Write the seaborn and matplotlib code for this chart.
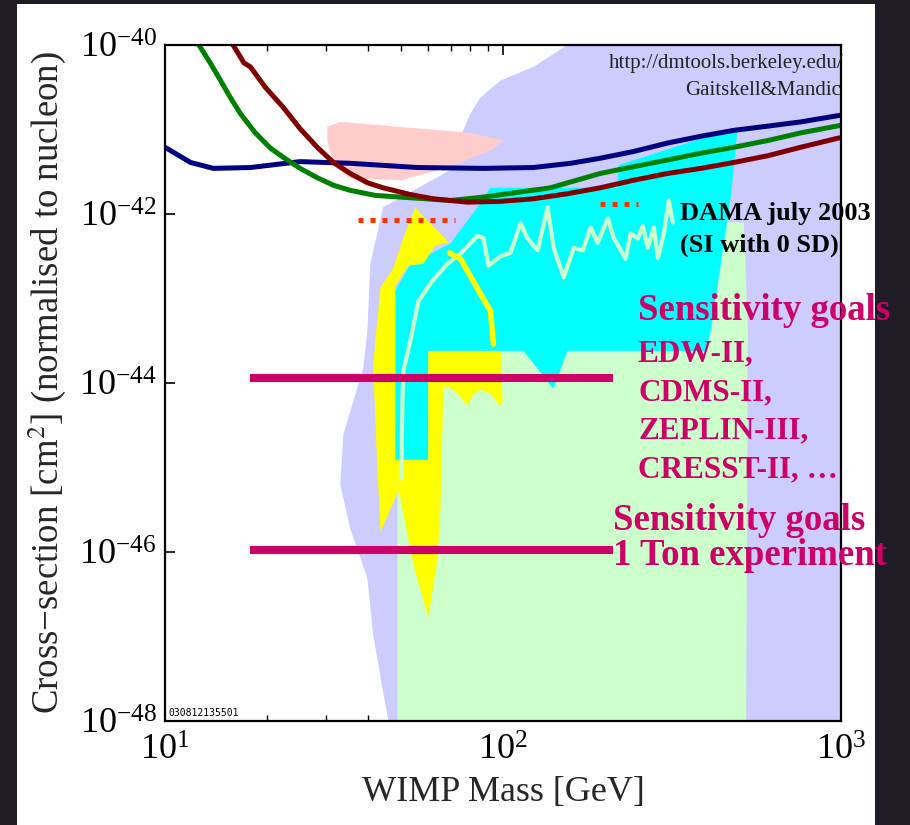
import numpy as np
import pandas as pd
import matplotlib
matplotlib.use("Agg")
import matplotlib.pyplot as plt
import seaborn as sns
from matplotlib.patches import Rectangle
from matplotlib.ticker import FixedLocator, NullLocator, LogFormatterSciNotation

# ---------------- data (mass in GeV, cross-section as log10 cm^2) ----------------
blue_mass = [10.0, 10.7, 11.9, 13.9, 17.9, 25.1, 35.3, 55.8, 87.5, 123, 158.5, 194, 243.6,
             307, 385, 482, 608, 760, 1000]
blue_logsig = [-41.21, -41.28, -41.39, -41.46, -41.45, -41.38, -41.40, -41.45, -41.46,
               -41.45, -41.40, -41.34, -41.26, -41.16, -41.08, -41.01, -40.96, -40.91, -40.83]

green_mass = [12.6, 13.6, 14.6, 15.6, 16.7, 18.5, 20.5, 22.4, 25.1, 28.2, 31.5, 35.3, 41.9,
              49.7, 69.9, 87.5, 138, 194, 243.6, 307, 385, 482, 608, 760, 1000]
green_logsig = [-40.0, -40.21, -40.42, -40.62, -40.81, -41.04, -41.22, -41.33, -41.46,
                -41.57, -41.66, -41.72, -41.78, -41.80, -41.84, -41.80, -41.69, -41.52,
                -41.44, -41.36, -41.28, -41.21, -41.13, -41.04, -40.95]

red_mass = [15.9, 16.7, 17.1, 17.9, 19.8, 22.4, 25.1, 28.2, 31.5, 35.3, 39.7, 44.2, 53.2,
            62.2, 78.5, 98.4, 123, 155, 194, 243.6, 307, 385, 482, 608, 760, 986]
red_logsig = [-40.0, -40.14, -40.21, -40.26, -40.50, -40.74, -40.99, -41.21, -41.39, -41.52,
              -41.63, -41.69, -41.77, -41.82, -41.86, -41.85, -41.82, -41.76, -41.69, -41.60,
              -41.52, -41.46, -41.39, -41.31, -41.21, -41.10]

lav_mass = [155, 1000, 1000, 45.8, 44.2, 41.3, 39.7, 35.3, 33.0, 33.7, 38.6, 39.7, 40.5,
            44.2, 69.9, 74.8, 80.1, 85.8, 98.4, 123]
lav_logsig = [-40.0, -40.0, -48.0, -48.0, -47.66, -46.98, -46.31, -45.72, -45.20, -44.61,
              -43.82, -43.38, -42.59, -41.92, -41.48, -41.09, -40.81, -40.62, -40.42, -40.26]

pink_mass = [30.2, 33.0, 80.1, 100.3, 91.8, 67.6, 49.7, 35.3, 31.5, 30.2]
pink_logsig = [-40.97, -40.91, -41.04, -41.13, -41.25, -41.46, -41.60, -41.58, -41.42, -41.13]

lgreen_mass = [48.7, 48.7, 385, 418, 516, 530, 524]
lgreen_logsig = [-48.0, -43.62, -43.62, -42.10, -42.10, -43.38, -48.0]

cyan_mass = [91.8, 218, 220, 495, 472, 441, 412, 398, 155, 141, 115, 60.1, 60.1, 48.0,
             48.0, 53.2, 69.9, 84.0]
cyan_logsig = [-41.69, -41.69, -41.42, -40.97, -41.80, -42.59, -43.38, -43.62, -43.62,
               -44.07, -43.62, -43.62, -44.91, -44.91, -42.91, -42.59, -42.35, -41.92]

yelA_mass = [43.4, 42.5, 41.3, 41.9, 43.4, 47.4, 50.7, 55.1, 59.7, 65.3, 69.0, 63.1, 58.1,
             52.5, 48.0, 48.0, 49.0]
yelA_logsig = [-45.76, -45.01, -43.82, -43.50, -42.87, -42.64, -42.28, -41.92, -42.08,
               -42.23, -42.34, -42.37, -42.59, -42.61, -42.85, -45.14, -45.28]

yelB_mass = [60.1, 98.4, 99.7, 98.4, 91.8, 85.8, 81.8, 78.5, 73.3, 68.5, 66.6, 65.3, 63.9,
             60.1, 54.3, 49.7, 48.0, 48.0, 60.1]
yelB_logsig = [-43.62, -43.62, -44.21, -44.27, -44.13, -44.08, -44.13, -44.27, -44.12,
               -44.04, -44.06, -45.48, -46.11, -46.77, -46.15, -45.36, -45.14, -44.91, -44.91]

yband_mass = [69.4, 74.8, 91.8, 93.7]
yband_logsig = [-42.46, -42.53, -43.15, -43.54]

dama_mass = [50.0, 50.4, 50.7, 53.2, 56.2, 61.8, 68.5, 74.8, 84.0, 87.5, 90.6, 98.4, 105.2,
             112.7, 118.2, 126.6, 135.5, 141.2, 151.2, 161.8, 172.1, 181.6, 190.6, 204.2,
             212.5, 230.5, 238.7, 250.6, 259.0, 268.1, 279.4, 287.2, 299.2, 309.3, 317.8]
dama_logsig = [-45.13, -44.21, -43.86, -43.50, -43.03, -42.79, -42.59, -42.47, -42.26,
               -42.28, -42.61, -42.50, -42.46, -42.11, -42.29, -42.43, -41.92, -42.40,
               -42.75, -42.40, -42.43, -42.16, -42.34, -42.05, -42.28, -42.53, -42.23,
               -42.29, -42.14, -42.40, -42.16, -42.52, -42.23, -41.84, -42.10]

dot1_mass = [37.3, 72.3]
dot1_logsig = [-42.07, -42.07]
dot2_mass = [194, 250]
dot2_logsig = [-41.88, -41.88]

goal_mass = [17.9, 212]
goal1_sig = [1.15e-44, 1.15e-44]
goal2_sig = [1.05e-46, 1.05e-46]

x_ticks = [10, 100, 1000]
y_ticks = [1e-48, 1e-46, 1e-44, 1e-42, 1e-40]

# ---------------- style ----------------
sns.set_style("ticks")
plt.rcParams['font.family'] = ['Liberation Serif', 'DejaVu Serif']
plt.rcParams['mathtext.fontset'] = 'stix'

W, H = 910, 825
fig = plt.figure(figsize=(W / 100, H / 100), dpi=100, facecolor='#201c26')
fig.patches.append(Rectangle((17 / W, 0), (875 - 17) / W, (825 - 4) / H,
                             transform=fig.transFigure, facecolor='white',
                             edgecolor='none', zorder=-10))


def fp(px, py):
    return px / W, 1 - py / H


ax = fig.add_axes([165 / W, 1 - 721 / H, (841 - 165) / W, (721 - 45) / H])
ax.set_zorder(1)
ax.set_facecolor('white')
ax.set_xscale('log')
ax.set_yscale('log')


def sig(a):
    return np.power(10.0, np.asarray(a))


# regions
ax.fill(lav_mass, sig(lav_logsig), color='#ccccff', lw=0, zorder=1)
ax.fill(pink_mass, sig(pink_logsig), color='#ffcccc', lw=0, zorder=2)
ax.fill(lgreen_mass, sig(lgreen_logsig), color='#ccffcc', lw=0, zorder=2)
ax.fill(cyan_mass, sig(cyan_logsig), color='#00ffff', lw=0, zorder=3)
ax.fill(yelA_mass, sig(yelA_logsig), color='#ffff00', lw=0, zorder=4)
ax.fill(yelB_mass, sig(yelB_logsig), color='#ffff00', lw=0, zorder=4)

# lines via seaborn
def sline(m, s, color, lw, z, **kw):
    df = pd.DataFrame({'m': m, 's': s})
    sns.lineplot(data=df, x='m', y='s', sort=False, estimator=None, color=color,
                 lw=lw, ax=ax, zorder=z, legend=False, **kw)

sline(dama_mass, sig(dama_logsig), '#ccffcc', 3.0, 5)
sline(yband_mass, sig(yband_logsig), '#ffff00', 4.0, 5.5)
sline(dot1_mass, sig(dot1_logsig), '#ff3300', 3.6, 6, linestyle=(0, (1, 1.4)))
sline(dot2_mass, sig(dot2_logsig), '#ff3300', 3.6, 6, linestyle=(0, (1, 1.4)))
sline(blue_mass, sig(blue_logsig), '#000080', 3.6, 7, solid_joinstyle='round')
sline(green_mass, sig(green_logsig), '#008000', 3.6, 7, solid_joinstyle='round')
sline(red_mass, sig(red_logsig), '#800000', 3.6, 7, solid_joinstyle='round')
sline(goal_mass, goal1_sig, '#cc0066', 5.8, 8, solid_capstyle='butt')
sline(goal_mass, goal2_sig, '#cc0066', 5.8, 8, solid_capstyle='butt')

ax.set_xlim(10, 1000)
ax.set_ylim(1e-48, 1e-40)
ax.xaxis.set_major_locator(FixedLocator(x_ticks))
ax.yaxis.set_major_locator(FixedLocator(y_ticks))
ax.yaxis.set_minor_locator(NullLocator())
ax.xaxis.set_major_formatter(LogFormatterSciNotation())
ax.yaxis.set_major_formatter(LogFormatterSciNotation())
ax.tick_params(which='both', direction='in', top=True, right=True, colors='black')
ax.tick_params(which='major', length=7, width=1.2, labelsize=26)
ax.tick_params(axis='x', which='major', pad=10)
ax.tick_params(axis='y', which='major', pad=6)
ax.tick_params(which='minor', length=4, width=1)
for sp in ax.spines.values():
    sp.set_linewidth(1.6)
    sp.set_color('black')
    sp.set_zorder(10)

ax.set_xlabel('WIMP Mass [GeV]', fontsize=26, labelpad=6)
ax.set_ylabel('Cross\u2212section [cm$^2$] (normalised to nucleon)', fontsize=26.5, labelpad=8)

# annotations
txt = dict(transform=fig.transFigure, zorder=12)
fig.text(*fp(843, 68), 'http://dmtools.berkeley.edu/', ha='right', va='baseline',
         fontsize=15, color='#222222', **txt)
fig.text(*fp(841, 95), 'Gaitskell&Mandic', ha='right', va='baseline',
         fontsize=15, color='#222222', **txt)
fig.text(*fp(680, 220), 'DAMA july 2003', ha='left', va='baseline', fontsize=19,
         fontweight='bold', color='black', **txt)
fig.text(*fp(680, 252), '(SI with 0 SD)', ha='left', va='baseline', fontsize=19,
         fontweight='bold', color='black', **txt)
mag = '#cc0066'
fig.text(*fp(638, 320), 'Sensitivity goals', ha='left', va='baseline', fontsize=26.5,
         fontweight='bold', color=mag, **txt)
for lab, yb in zip(['EDW-II,', 'CDMS-II,', 'ZEPLIN-III,', 'CRESST-II, \u2026'],
                   [361, 400, 438, 477]):
    fig.text(*fp(638, yb), lab, ha='left', va='baseline', fontsize=22.5,
             fontweight='bold', color=mag, **txt)
fig.text(*fp(613, 530), 'Sensitivity goals', ha='left', va='baseline', fontsize=26.5,
         fontweight='bold', color=mag, **txt)
fig.text(*fp(613, 565), '1 Ton experiment', ha='left', va='baseline', fontsize=26.5,
         fontweight='bold', color=mag, **txt)
fig.text(*fp(168, 716), '030812135501', ha='left', va='baseline', fontsize=7,
         family='DejaVu Sans Mono', color='black', **txt)

fig.savefig('out.png', dpi=100, facecolor=fig.get_facecolor())
